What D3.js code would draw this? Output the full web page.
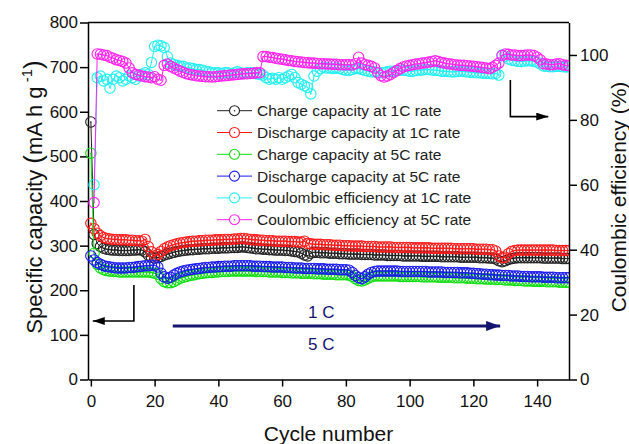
<!DOCTYPE html>
<html>
<head>
<meta charset="utf-8">
<script src="https://cdn.jsdelivr.net/npm/d3@7"></script>
<style>
body { margin: 0; background: #fff; }
svg { font-family: "Liberation Sans", Arial, sans-serif; }
.axis text { font-size: 17px; fill: #111; }
.axis path, .axis line { stroke: #000; stroke-width: 1.5px; }
</style>
</head>
<body>
<div id="chart"></div>
<script>

// ticks
var cycleTicks = [0, 20, 40, 60, 80, 100, 120, 140];
var capacityTicks = [0, 100, 200, 300, 400, 500, 600, 700, 800];
var ceTicks = [0, 20, 40, 60, 80, 100];

// capacities, cycle 0..150 (mA h g-1)
var charge1C = [577,325,305,298,294,
	292,291,290,290,289,289,289,289,290,290,291,290,
	286,279,274,272,273,276,279,281,283,285,287,288,289,
	290,291,291,292,292,293,293,293,294,294,
	294,295,295,295,296,296,296,297,297,296,
	295,294,293,293,292,292,291,291,290,290,
	290,289,289,288,287,286,283,279,277,283,
	285,285,284,284,284,283,283,283,282,282,
	282,281,281,281,281,280,280,280,280,279,
	279,279,279,278,278,278,278,278,277,277,
	277,277,277,277,276,276,276,276,276,276,
	275,275,275,275,275,275,274,274,274,274,
	274,274,273,273,273,272,272,270,266,264,
	266,269,271,272,273,273,273,273,273,273,
	273,273,272,272,272,272,272,272,271,271,
	271];

var discharge1C = [350,338,328,322,318,
	316,315,314,314,313,313,313,312,312,311,311,310,
	314,298,286,277,280,287,293,297,300,302,304,306,307,
	308,309,310,310,311,311,312,312,312,313,
	313,313,314,314,314,315,315,316,316,315,
	314,313,313,312,312,311,311,311,310,310,
	310,310,309,309,309,308,308,310,305,304,
	303,303,303,302,302,302,301,301,301,300,
	300,300,299,299,299,299,298,298,298,298,
	297,297,297,297,297,296,296,296,296,296,
	296,295,295,295,295,295,295,294,294,294,
	294,294,294,294,293,293,293,293,293,293,
	293,292,292,292,292,291,291,288,277,273,
	274,282,287,289,290,290,290,290,290,290,
	290,290,290,290,290,290,289,289,289,289,
	289];

var charge5C = [507,283,258,250,246,
	244,243,242,242,241,241,241,241,241,241,241,241,
	241,241,240,238,236,226,219,217,217,219,223,227,229,
	231,233,234,236,237,238,239,240,240,241,
	241,242,242,242,243,243,243,243,243,243,
	243,243,242,242,242,242,241,241,241,241,
	240,240,240,239,239,239,238,238,238,238,
	237,237,237,236,236,236,236,235,235,235,
	235,234,231,226,222,221,223,227,230,232,
	232,232,232,232,232,232,232,231,231,231,
	231,231,231,231,230,230,230,230,230,229,
	229,229,229,229,228,228,228,228,227,227,
	227,226,226,226,225,225,225,224,224,224,
	223,223,223,222,222,222,221,221,221,220,
	220,220,220,219,219,219,219,218,218,218,
	218];

var discharge5C = [277,268,262,258,255,
	253,252,251,250,250,250,250,251,251,252,253,254,
	255,255,256,256,252,238,230,227,229,234,238,241,243,
	245,246,247,248,249,250,251,251,252,252,
	253,253,254,254,254,255,255,255,255,255,
	255,254,254,254,253,253,253,252,252,252,
	252,251,251,251,250,250,250,249,249,249,
	249,248,248,248,247,247,247,247,246,246,
	246,245,240,233,228,226,230,236,240,242,
	243,243,243,243,243,243,243,242,242,242,
	242,242,242,242,242,242,241,241,241,241,
	241,240,240,240,240,240,239,239,239,238,
	238,237,237,236,236,235,235,234,234,233,
	233,233,232,232,232,231,231,231,230,230,
	230,230,229,229,229,229,228,228,228,228,
	228];

// coulombic efficiency, cycle 1..150 (%)
var ce1C = [60,93,93.5,92,92.5,89.8,92.5,93.5,93,92,
	92.5,93.5,93,92.5,93.5,94,94.5,94,97.7,102.6,
	103,102.8,102.3,99.5,97.5,97,96.8,96.5,96.5,96,
	96,95.8,95.5,95.5,95.3,95,94.8,94.5,94.5,94.5,
	94.3,94.5,94.5,94.2,94.5,94.8,94.5,94.3,94.5,94.5,
	94.5,94.2,94,93.8,93,92.5,92.8,92.5,93,92.5,
	93,93.5,94,93,91.5,91,90.5,90,88,93.5,
	95,95.8,96.2,96,96,95.8,96,95.8,95.5,95.3,
	95.2,95.5,95.8,95.8,95.5,95.2,95,94.8,94.8,94.6,
	94.5,94.6,94.8,95,95,95.2,95.3,95.3,95.2,95,
	95,95.2,95.3,95.4,95.5,95.5,95.4,95.3,95.2,95,
	95,94.9,94.8,94.8,94.9,95,95,94.8,94.7,94.6,
	94.5,94.5,94.4,94.4,94.3,94.2,94.3,93.8,100,99.6,
	98.8,98.4,98.2,98,98,98.1,98.2,98.2,98,97.8,
	97.2,96.6,96.5,96.4,96.4,96.5,96.5,96.4,96.3,96.3];

var ce5C = [54.5,100.3,100.2,100,99.8,99.3,99,98.5,98.3,98,
	97.5,96,94.5,94,93.8,93.5,93.3,93.2,93,93.3,
	92.5,92.2,96.8,97.2,96.5,96,95.5,95,94.6,94.2,
	94,93.8,93.6,93.5,93.4,93.3,93.3,93.2,93.3,93.4,
	93.5,93.6,93.7,93.8,93.9,94,94.1,94.2,94.2,94.3,
	94.4,94.5,94.5,99.5,99.5,99.3,99.2,99,98.8,98.7,
	98.5,98.3,98.2,98,97.9,97.8,97.7,97.6,97.5,97.5,
	97.4,97.3,97.3,97.2,97.2,97.1,97.1,97,97,97,
	97,96.9,97.3,99.3,97.5,97,96.8,96.5,96,94.5,
	93.6,93.2,93.5,94,94.6,95.2,95.8,96.3,96.6,96.8,
	97,97.2,97.3,97.5,97.6,97.8,98,98.2,98,97.7,
	97.5,97.3,97.2,97,96.9,96.8,96.8,96.7,96.6,96.5,
	96.4,96.3,96.1,96,95.8,96.2,96.8,97.5,99.8,100.3,
	100.2,100,100,99.8,99.8,99.9,100,100,99.8,99.3,
	98.5,97.3,97.2,97,97,97.2,97.3,97,96.8,96.7];

var seriesNames = [
	'Charge capacity at 1C rate',
	'Discharge capacity at 1C rate',
	'Charge capacity at 5C rate',
	'Discharge capacity at 5C rate',
	'Coulombic efficiency at 1C rate',
	'Coulombic efficiency at 5C rate'
];
var seriesColors = ['#222222', '#ff1a1a', '#11dd11', '#1a1aee', '#22eef2', '#ff22ee'];

drawChart();

function drawChart() {

	var width = 629, height = 444;
	var left = 88, right = 569, top = 22.5, bottom = 379.5;

	var svg = d3.select('#chart')
				.append('svg')
				.attr('width', width)
				.attr('height', height);

	var x = d3.scaleLinear().domain([-0.9, 150]).range([left, right]);
	var yCap = d3.scaleLinear().domain([0, 800]).range([bottom, top]);
	var yCE = d3.scaleLinear().domain([0, 110]).range([bottom, top]);

	var defs = svg.append('defs');
	defs.append('clipPath').attr('id', 'clip')
		.append('rect')
		.attr('x', 0).attr('y', 0)
		.attr('width', right).attr('height', height);

	function arrowMarker(id, color, len, half) {
		defs.append('marker')
			.attr('id', id)
			.attr('markerUnits', 'userSpaceOnUse')
			.attr('viewBox', '0 0 ' + len + ' ' + (half * 2))
			.attr('refX', len).attr('refY', half)
			.attr('markerWidth', len).attr('markerHeight', half * 2)
			.attr('orient', 'auto')
			.append('path')
			.attr('d', 'M0,0L' + len + ',' + half + 'L0,' + (half * 2) + 'Z')
			.attr('fill', color);
	}
	arrowMarker('headBlack', '#000', 12, 4);
	arrowMarker('headNavy', '#14146e', 14, 5);

	// axes
	svg.append('g').attr('class', 'axis')
		.attr('transform', 'translate(0,' + bottom + ')')
		.call(d3.axisBottom(x).tickValues(cycleTicks).tickSize(7).tickPadding(8).tickSizeOuter(0));

	svg.append('g').attr('class', 'axis')
		.attr('transform', 'translate(' + left + ',0)')
		.call(d3.axisLeft(yCap).tickValues(capacityTicks).tickSize(8).tickPadding(2).tickSizeOuter(0));

	svg.append('g').attr('class', 'axis')
		.attr('transform', 'translate(' + right + ',0)')
		.call(d3.axisRight(yCE).tickValues(ceTicks).tickSize(8).tickPadding(3).tickSizeOuter(0));

	svg.append('line')
		.attr('x1', left).attr('x2', right)
		.attr('y1', top).attr('y2', top)
		.attr('stroke', '#000').attr('stroke-width', 1.5);

	// series
	var plot = svg.append('g').attr('clip-path', 'url(#clip)');
	var allSeries = [
		{ vals: charge1C, first: 0, y: yCap },
		{ vals: discharge1C, first: 0, y: yCap },
		{ vals: charge5C, first: 0, y: yCap },
		{ vals: discharge5C, first: 0, y: yCap },
		{ vals: ce1C, first: 1, y: yCE },
		{ vals: ce5C, first: 1, y: yCE }
	];

	allSeries.forEach(function(s, k) {
		var pts = s.vals.map(function(v, i) { return { c: s.first + i, v: v }; });
		var g = plot.append('g');
		g.append('path')
			.datum(pts)
			.attr('fill', 'none')
			.attr('stroke', seriesColors[k])
			.attr('stroke-width', 1)
			.attr('d', d3.line()
				.x(function(d) { return x(d.c); })
				.y(function(d) { return s.y(d.v); }));
		g.selectAll('circle.m')
			.data(pts)
			.enter()
			.append('circle')
			.attr('class', 'm')
			.attr('cx', function(d) { return x(d.c); })
			.attr('cy', function(d) { return s.y(d.v); })
			.attr('r', 5.2)
			.attr('fill', 'none')
			.attr('stroke', seriesColors[k])
			.attr('stroke-width', 1.1);
		g.selectAll('circle.d')
			.data(pts)
			.enter()
			.append('circle')
			.attr('class', 'd')
			.attr('cx', function(d) { return x(d.c); })
			.attr('cy', function(d) { return s.y(d.v); })
			.attr('r', 0.8)
			.attr('fill', seriesColors[k]);
	});

	// legend
	var legend = svg.append('g');
	seriesNames.forEach(function(name, i) {
		var ly = 110.7 + i * 21.8;
		legend.append('line')
			.attr('x1', 217).attr('x2', 252)
			.attr('y1', ly).attr('y2', ly)
			.attr('stroke', seriesColors[i]).attr('stroke-width', 1);
		legend.append('circle')
			.attr('cx', 234.5).attr('cy', ly).attr('r', 5)
			.attr('fill', '#fff')
			.attr('stroke', seriesColors[i]).attr('stroke-width', 1.1);
		legend.append('circle')
			.attr('cx', 234.5).attr('cy', ly).attr('r', 0.8)
			.attr('fill', seriesColors[i]);
		legend.append('text')
			.attr('x', 257).attr('y', ly)
			.attr('dy', '0.36em')
			.attr('font-size', '15.5px')
			.attr('fill', '#222')
			.text(name);
	});

	// arrows
	svg.append('path')
		.attr('d', d3.line()([[x(13.5), yCap(212)], [x(13.5), yCap(131)], [x(0.6), yCap(131)]]))
		.attr('fill', 'none').attr('stroke', '#000').attr('stroke-width', 1.6)
		.attr('marker-end', 'url(#headBlack)');

	svg.append('path')
		.attr('d', d3.line()([[x(131.6), yCE(92.3)], [x(131.6), yCE(81)], [x(143.5), yCE(81)]]))
		.attr('fill', 'none').attr('stroke', '#000').attr('stroke-width', 1.6)
		.attr('marker-end', 'url(#headBlack)');

	svg.append('path')
		.attr('d', d3.line()([[x(25.7), yCap(120)], [x(128.4), yCap(120)]]))
		.attr('fill', 'none').attr('stroke', '#14146e').attr('stroke-width', 3)
		.attr('marker-end', 'url(#headNavy)');

	svg.append('text')
		.attr('x', x(72.3)).attr('y', yCap(138))
		.attr('text-anchor', 'middle').attr('font-size', '17px').attr('fill', '#14146e')
		.text('1 C');
	svg.append('text')
		.attr('x', x(72.3)).attr('y', yCap(66))
		.attr('text-anchor', 'middle').attr('font-size', '17px').attr('fill', '#14146e')
		.text('5 C');

	// axis titles
	svg.append('text')
		.attr('x', (left + right) / 2).attr('y', 441)
		.attr('text-anchor', 'middle').attr('font-size', '21px').attr('fill', '#111')
		.text('Cycle number');

	var yt = svg.append('text')
		.attr('transform', 'translate(42,197) rotate(-90)')
		.attr('text-anchor', 'middle').attr('font-size', '22px').attr('fill', '#111');
	yt.append('tspan').text('Specific capacity ');
	yt.append('tspan').attr('font-size', '26px').text('(');
	yt.append('tspan').text('mA h g');
	yt.append('tspan').attr('font-size', '15px').attr('dy', -10).text(' -1');
	yt.append('tspan').attr('font-size', '26px').attr('dy', 10).text(')');

	svg.append('text')
		.attr('transform', 'translate(626,197) rotate(-90)')
		.attr('text-anchor', 'middle').attr('font-size', '21px').attr('fill', '#111')
		.text('Coulombic efficiency (%)');
}
</script>
</body>
</html>
